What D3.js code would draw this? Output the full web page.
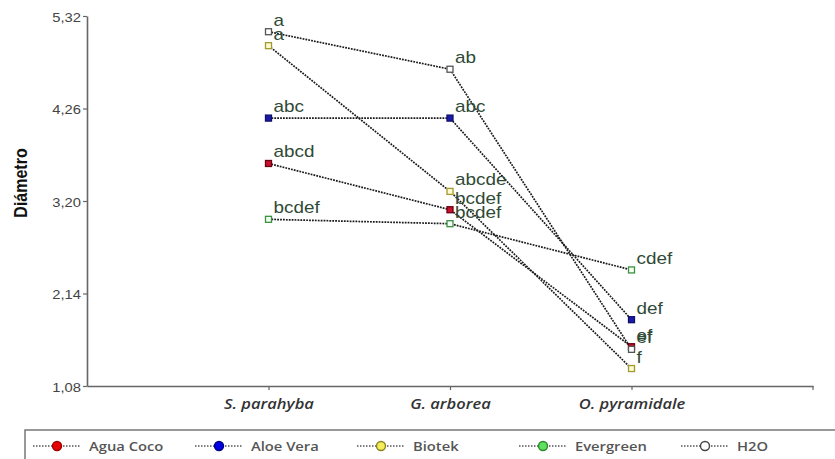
<!DOCTYPE html>
<html>
<head>
<meta charset="utf-8">
<script src="https://cdn.jsdelivr.net/npm/d3@7"></script>
<style>
  body { margin: 0; background: #fff; }
  svg { display: block; }
</style>
</head>
<body>
<svg width="835" height="459"></svg>
<script>
// data
var categories = ["S. parahyba", "G. arborea", "O. pyramidale"];
var yTicks = [1.08, 2.14, 3.20, 4.26, 5.32];

var seriesNames = ["Agua Coco", "Aloe Vera", "Biotek", "Evergreen", "H2O"];
var aguaCoco = [3.63, 3.10, 1.53];
var aloeVera = [4.15, 4.15, 1.84];
var biotek = [4.98, 3.31, 1.28];
var evergreen = [2.99, 2.94, 2.41];
var h2o = [5.14, 4.71, 1.50];

var aguaCocoLetters = ["abcd", "bcdef", "ef"];
var aloeVeraLetters = ["abc", "abc", "def"];
var biotekLetters = ["a", "abcde", "f"];
var evergreenLetters = ["bcdef", "bcdef", "cdef"];
var h2oLetters = ["a", "ab", "ef"];

var series = [
  { name: seriesNames[0], values: aguaCoco, letters: aguaCocoLetters, fill: "#c8102e", stroke: "#6a0010", lfill: "#e80000", lstroke: "#a00000" },
  { name: seriesNames[1], values: aloeVera, letters: aloeVeraLetters, fill: "#1a1aa8", stroke: "#10106a", lfill: "#0000e0", lstroke: "#000090" },
  { name: seriesNames[2], values: biotek, letters: biotekLetters, fill: "#fffbd0", stroke: "#a09a30", lfill: "#f4ee5a", lstroke: "#8a8420" },
  { name: seriesNames[3], values: evergreen, letters: evergreenLetters, fill: "#f4fff4", stroke: "#3c9040", lfill: "#60e060", lstroke: "#2a8a2a" },
  { name: seriesNames[4], values: h2o, letters: h2oLetters, fill: "#ffffff", stroke: "#555555", lfill: "#ffffff", lstroke: "#444444" }
];

// picture looks stretched sideways, so text gets widened a bit
var sx = 1.18;

var svg = d3.select("svg");

var x = d3.scalePoint().domain(categories).range([87, 813]).padding(1);
var y = d3.scaleLinear().domain([1.08, 5.32]).range([386, 16]);

var g = {
  axes: svg.append("g").attr("id", "axes"),
  lines: svg.append("g").attr("id", "lines"),
  marks: svg.append("g").attr("id", "marks"),
  labels: svg.append("g").attr("id", "labels"),
  legend: svg.append("g").attr("id", "legend")
};

// y axis
var yAxis = g.axes.append("g")
  .attr("transform", translate(87, 0))
  .call(d3.axisLeft(y).tickValues(yTicks).tickSize(4).tickSizeOuter(0)
    .tickFormat(function(d) { return d3.format(".2f")(d).replace(".", ","); }));
yAxis.select(".domain").attr("stroke", "#666").attr("stroke-width", 1.6);
yAxis.selectAll(".tick line").attr("stroke", "#666").attr("stroke-width", 1.2);
yAxis.selectAll(".tick text")
  .attr("x", null).attr("dy", null)
  .attr("transform", "translate(-6,5) scale(" + sx + ",1)")
  .attr("fill", "#444")
  .style("font-family", "'Liberation Sans', Arial, sans-serif")
  .style("font-size", "12.5px");

// x axis
var xAxis = g.axes.append("g")
  .attr("transform", translate(0, 386))
  .call(d3.axisBottom(x).tickSize(4).tickSizeOuter(0));
xAxis.select(".domain").attr("stroke", "#666").attr("stroke-width", 1.6);
xAxis.selectAll(".tick line").attr("stroke", "#666").attr("stroke-width", 1.2);
xAxis.append("line")
  .attr("x1", 813).attr("x2", 813).attr("y1", 0).attr("y2", 4)
  .attr("stroke", "#666").attr("stroke-width", 1.2);
xAxis.selectAll(".tick text")
  .attr("y", null).attr("dy", null)
  .attr("transform", "translate(0,23) scale(" + sx + ",1)")
  .attr("fill", "#333")
  .style("font-family", "'Open Sans', sans-serif")
  .style("font-style", "italic")
  .style("font-weight", "600")
  .style("font-size", "14px");

// y title
g.axes.append("text")
  .attr("transform", "translate(27,183) scale(" + sx + ",1) rotate(-90)")
  .attr("text-anchor", "middle")
  .attr("fill", "#111")
  .style("font-family", "'Liberation Sans', Arial, sans-serif")
  .style("font-weight", "bold")
  .style("font-size", "16px")
  .text("Diámetro");

// dotted lines
var line = d3.line()
  .x(function(d, i) { return x(categories[i]); })
  .y(function(d) { return y(d); });

g.lines.selectAll("path")
  .data(series)
  .enter()
  .append("path")
  .attr("d", function(d) { return line(d.values); })
  .attr("fill", "none")
  .attr("stroke", "#1a1a1a")
  .attr("stroke-width", 1.7)
  .attr("stroke-dasharray", "1.8,1.1");

// points
var pts = [];
series.forEach(function(s) {
  s.values.forEach(function(v, i) {
    pts.push({ s: s, v: v, cat: categories[i], letter: s.letters[i] });
  });
});

g.marks.selectAll("rect")
  .data(pts)
  .enter()
  .append("rect")
  .attr("x", function(d) { return x(d.cat) - 3; })
  .attr("y", function(d) { return y(d.v) - 3; })
  .attr("width", 6)
  .attr("height", 6)
  .attr("fill", function(d) { return d.s.fill; })
  .attr("stroke", function(d) { return d.s.stroke; })
  .attr("stroke-width", 1.3);

g.labels.selectAll("text")
  .data(pts)
  .enter()
  .append("text")
  .attr("transform", function(d) {
    return translate(x(d.cat) + 5, y(d.v) - 6) + " scale(" + sx + ",1)";
  })
  .attr("fill", "#2f4a36")
  .style("font-family", "'Liberation Sans', Arial, sans-serif")
  .style("font-size", "16px")
  .text(function(d) { return d.letter; });

// legend
g.legend.append("rect")
  .attr("x", 25).attr("y", 430)
  .attr("width", 830).attr("height", 40)
  .attr("fill", "#fff")
  .attr("stroke", "#777")
  .attr("stroke-width", 1.5);

var items = g.legend.selectAll("g.item")
  .data(series)
  .enter()
  .append("g")
  .attr("class", "item")
  .attr("transform", function(d, i) { return translate(57 + i * 162, 446); });

items.append("line")
  .attr("x1", -24).attr("x2", 24)
  .attr("stroke", "#555")
  .attr("stroke-width", 1.3)
  .attr("stroke-dasharray", "1.5,1.5");

items.append("circle")
  .attr("r", 4.5)
  .attr("fill", function(d) { return d.lfill; })
  .attr("stroke", function(d) { return d.lstroke; })
  .attr("stroke-width", 1.4);

items.append("text")
  .attr("transform", "translate(32,5) scale(" + sx + ",1)")
  .attr("fill", "#555")
  .style("font-family", "'Open Sans', sans-serif")
  .style("font-weight", "600")
  .style("font-size", "12.5px")
  .text(function(d) { return d.name; });

function translate(x, y) {
  return "translate(" + String(x) + "," + String(y) + ")";
}
</script>
</body>
</html>
